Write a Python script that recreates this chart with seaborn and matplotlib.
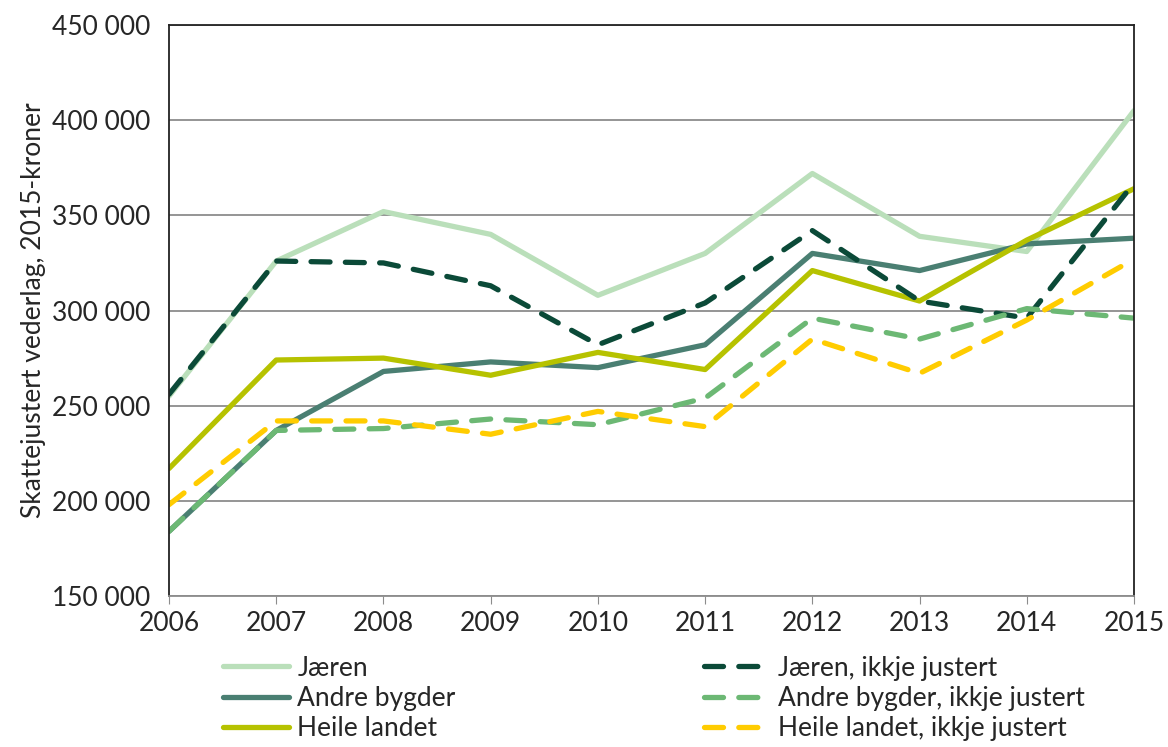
import pandas as pd
import matplotlib
matplotlib.use('Agg')
import matplotlib.pyplot as plt
import matplotlib.ticker as mticker
import seaborn as sns

years = [2006, 2007, 2008, 2009, 2010, 2011, 2012, 2013, 2014, 2015]
jaeren = [255000, 326000, 352000, 340000, 308000, 330000, 372000, 339000, 331000, 405000]
andre = [184000, 237000, 268000, 273000, 270000, 282000, 330000, 321000, 335000, 338000]
heile = [217000, 274000, 275000, 266000, 278000, 269000, 321000, 305000, 337000, 364000]
jaeren_ij = [256000, 326000, 325000, 313000, 282000, 304000, 342000, 305000, 296000, 367000]
andre_ij = [184000, 237000, 238000, 243000, 240000, 254000, 296000, 285000, 301000, 296000]
heile_ij = [198000, 242000, 242000, 235000, 247000, 239000, 285000, 267000, 295000, 327000]

series = [
    ('Jæren', jaeren, '#BADFBA', '-'),
    ('Andre bygder', andre, '#4A7F72', '-'),
    ('Heile landet', heile, '#B6C200', '-'),
    ('Jæren, ikkje justert', jaeren_ij, '#0B4A38', '--'),
    ('Andre bygder, ikkje justert', andre_ij, '#6CB874', '--'),
    ('Heile landet, ikkje justert', heile_ij, '#FFCC00', '--'),
]

sns.set_style('white')
plt.rcParams['font.family'] = ['Lato', 'DejaVu Sans']

fig = plt.figure(figsize=(11.68, 7.47), dpi=100)
ax = fig.add_axes([0.1447, 0.2021, 0.8262, 0.7644])

for name, vals, col, ls in series:
    df = pd.DataFrame({'year': years, 'value': vals})
    sns.lineplot(data=df, x='year', y='value', ax=ax, color=col, linewidth=3.8, label=name)
    l = ax.lines[-1]
    l.set_solid_capstyle('round')
    if ls == '--':
        l.set_dashes((3.6, 2.9))
        l.set_dash_capstyle('round')

ax.set_xlim(2006, 2015)
ax.set_ylim(150000, 450000)
ax.set_yticks(range(150000, 450001, 50000))
ax.set_xticks(years)
ax.yaxis.set_major_formatter(mticker.FuncFormatter(lambda v, p: f'{int(v):,}'.replace(',', ' ')))
ax.grid(axis='y', color='#8c8c8c', linewidth=1.3)
ax.set_axisbelow(True)
for s in ['left', 'right', 'top']:
    ax.spines[s].set_color('#222222')
    ax.spines[s].set_linewidth(1.3)
ax.spines['bottom'].set_color('#8c8c8c')
ax.spines['bottom'].set_linewidth(1.3)
ax.tick_params(axis='x', bottom=True, length=6, color='#8c8c8c', labelsize=19, pad=5)
ax.tick_params(axis='y', left=False, labelsize=19, pad=10)
ax.set_xlabel('')
ax.set_ylabel('Skattejustert vederlag, 2015-kroner', fontsize=19, labelpad=4)

handles, labels = ax.get_legend_handles_labels()
ax.get_legend().remove()
fig.legend(handles, labels, ncol=2, loc='upper left', bbox_to_anchor=(0.18, 0.14),
           frameon=False, fontsize=19, handlelength=2.5, handletextpad=0.3,
           columnspacing=9.4, labelspacing=0.2, borderpad=0)

plt.savefig('out.png', dpi=100)
